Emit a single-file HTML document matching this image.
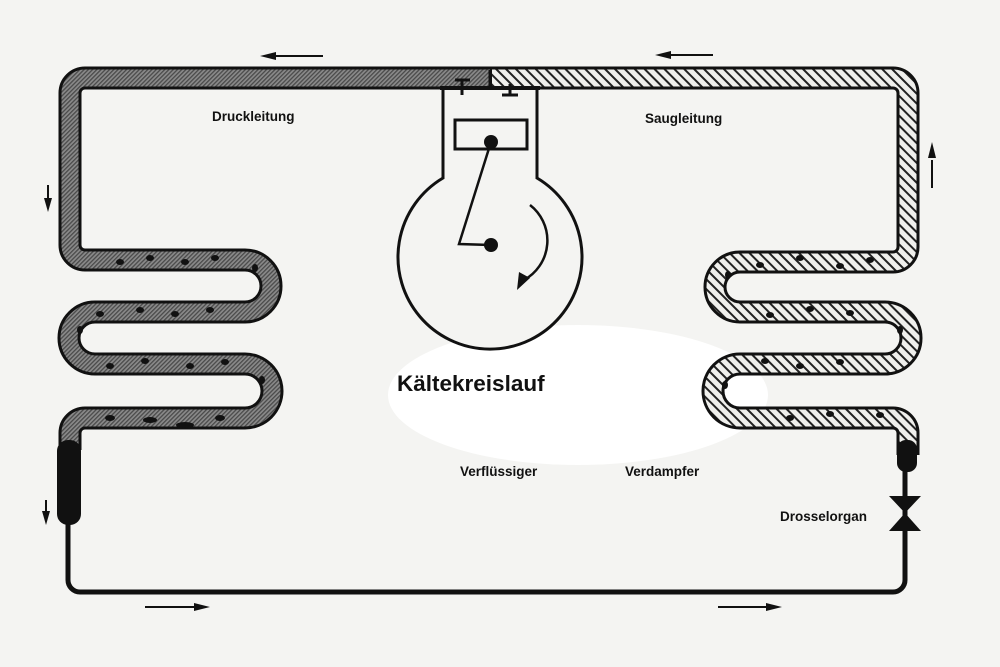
<!DOCTYPE html>
<html><head><meta charset="utf-8"><style>
html,body{margin:0;padding:0;background:#f4f4f2;}
svg{display:block}
text{font-family:"Liberation Sans",sans-serif;font-weight:bold;fill:#111}
</style></head><body>
<svg width="1000" height="667" viewBox="0 0 1000 667" xmlns="http://www.w3.org/2000/svg">
<defs>
<pattern id="dk" width="3" height="3" patternUnits="userSpaceOnUse" patternTransform="rotate(45)">
<rect width="3" height="3" fill="#8a8a8a"/><rect width="1.3" height="3" fill="#4a4a4a"/>
</pattern>
<pattern id="hs" width="7" height="7" patternUnits="userSpaceOnUse" patternTransform="rotate(-45)">
<rect width="7" height="7" fill="#efefec"/><rect width="2" height="7" fill="#222"/>
</pattern>
</defs>
<rect width="1000" height="667" fill="#f4f4f2"/>
<ellipse cx="578" cy="395" rx="190" ry="70" fill="#fff"/>
<path d="M 490 78 L 85 78 A15 15 0 0 0 70 93 L 70 245 A15 15 0 0 0 85 260 L 245 260 A26 26 0 0 1 245 312 L 95 312 A26 26 0 0 0 95 364 L 245 364 A27 27 0 0 1 245 418 L 85 418 A15 15 0 0 0 70 433 L 70 450" fill="none" stroke="#111" stroke-width="23"/>
<path d="M 492 78 L 85 78 A15 15 0 0 0 70 93 L 70 245 A15 15 0 0 0 85 260 L 245 260 A26 26 0 0 1 245 312 L 95 312 A26 26 0 0 0 95 364 L 245 364 A27 27 0 0 1 245 418 L 85 418 A15 15 0 0 0 70 433 L 70 450" fill="none" stroke="url(#dk)" stroke-width="17"/>
<path d="M 490 78 L 893 78 A15 15 0 0 1 908 93 L 908 247 A15 15 0 0 1 893 262 L 740 262 A25 25 0 0 0 740 312 L 885 312 A26 26 0 0 1 885 364 L 740 364 A27 27 0 0 0 740 418 L 893 418 A15 15 0 0 1 908 433 L 908 455" fill="none" stroke="#111" stroke-width="23"/>
<path d="M 492 78 L 893 78 A15 15 0 0 1 908 93 L 908 247 A15 15 0 0 1 893 262 L 740 262 A25 25 0 0 0 740 312 L 885 312 A26 26 0 0 1 885 364 L 740 364 A27 27 0 0 0 740 418 L 893 418 A15 15 0 0 1 908 433 L 908 455" fill="none" stroke="url(#hs)" stroke-width="17"/>
<g fill="#111">
<ellipse cx="120" cy="262" rx="4" ry="3"/><ellipse cx="150" cy="258" rx="4" ry="3"/><ellipse cx="185" cy="262" rx="4" ry="3"/><ellipse cx="215" cy="258" rx="4" ry="3"/><ellipse cx="255" cy="268" rx="3" ry="4"/>
<ellipse cx="100" cy="314" rx="4" ry="3"/><ellipse cx="140" cy="310" rx="4" ry="3"/><ellipse cx="175" cy="314" rx="4" ry="3"/><ellipse cx="210" cy="310" rx="4" ry="3"/><ellipse cx="80" cy="330" rx="3" ry="4"/>
<ellipse cx="110" cy="366" rx="4" ry="3"/><ellipse cx="145" cy="361" rx="4" ry="3"/><ellipse cx="190" cy="366" rx="4" ry="3"/><ellipse cx="225" cy="362" rx="4" ry="3"/><ellipse cx="262" cy="380" rx="3" ry="4"/>
<ellipse cx="110" cy="418" rx="5" ry="3"/><ellipse cx="150" cy="420" rx="7" ry="3"/><ellipse cx="185" cy="425" rx="9" ry="3"/><ellipse cx="220" cy="418" rx="5" ry="3"/>
<ellipse cx="760" cy="265" rx="4" ry="3"/><ellipse cx="800" cy="258" rx="4" ry="3"/><ellipse cx="840" cy="266" rx="4" ry="3"/><ellipse cx="870" cy="260" rx="4" ry="3"/><ellipse cx="728" cy="275" rx="3" ry="4"/>
<ellipse cx="770" cy="315" rx="4" ry="3"/><ellipse cx="810" cy="309" rx="4" ry="3"/><ellipse cx="850" cy="313" rx="4" ry="3"/><ellipse cx="900" cy="330" rx="3" ry="4"/>
<ellipse cx="765" cy="361" rx="4" ry="3"/><ellipse cx="800" cy="366" rx="4" ry="3"/><ellipse cx="840" cy="362" rx="4" ry="3"/><ellipse cx="725" cy="385" rx="3" ry="4"/>
<ellipse cx="790" cy="418" rx="4" ry="3"/><ellipse cx="830" cy="414" rx="4" ry="3"/><ellipse cx="880" cy="415" rx="4" ry="3"/>
</g>
<path d="M 68 520 L 68 580 A12 12 0 0 0 80 592 L 893 592 A12 12 0 0 0 905 580 L 905 460" fill="none" stroke="#111" stroke-width="5"/>
<rect x="57" y="440" width="24" height="85" rx="11" fill="#111"/>
<rect x="897" y="440" width="20" height="32" rx="9" fill="#111"/>
<polygon points="889,496 921,496 905,513" fill="#111"/><polygon points="889,531 921,531 905,513" fill="#111"/>
<path d="M 443 88 L 443 178 A92 92 0 1 0 537 178 L 537 88" fill="#f4f4f2" stroke="#111" stroke-width="3"/>
<rect x="455" y="120" width="72" height="29" fill="none" stroke="#111" stroke-width="3"/>
<polyline points="491,142 459,244 491,245" fill="none" stroke="#111" stroke-width="2.5"/>
<circle cx="491" cy="142" r="7" fill="#111"/><circle cx="491" cy="245" r="7" fill="#111"/>
<path d="M 530 205 A45 45 0 0 1 524 280" fill="none" stroke="#111" stroke-width="2.5"/>
<polygon points="517,290 519,272 530,278" fill="#111"/>
<rect x="440" y="86" width="100" height="4" fill="#111"/>
<path d="M 455 80 H 470 M 462 80 V 95 M 502 95 H 518 M 510 84 V 95 M 490 70 V 86" stroke="#111" stroke-width="3"/>
<g stroke="#111" stroke-width="2" fill="#111">
<line x1="275" y1="56" x2="323" y2="56"/><polygon points="260,56 276,52 276,60" stroke="none"/>
<line x1="670" y1="55" x2="713" y2="55"/><polygon points="655,55 671,51 671,59" stroke="none"/>
<line x1="48" y1="185" x2="48" y2="200"/><polygon points="48,212 44,198 52,198" stroke="none"/>
<line x1="46" y1="500" x2="46" y2="512"/><polygon points="46,525 42,511 50,511" stroke="none"/>
<line x1="932" y1="160" x2="932" y2="188"/><polygon points="932,142 928,158 936,158" stroke="none"/>
<line x1="145" y1="607" x2="195" y2="607"/><polygon points="210,607 194,603 194,611" stroke="none"/>
<line x1="718" y1="607" x2="767" y2="607"/><polygon points="782,607 766,603 766,611" stroke="none"/>
</g>
<text x="212" y="121" font-size="13.5">Druckleitung</text>
<text x="645" y="123" font-size="13.5">Saugleitung</text>
<text x="397" y="391" font-size="22.5">Kältekreislauf</text>
<text x="460" y="476" font-size="13.5">Verflüssiger</text>
<text x="625" y="476" font-size="13.5">Verdampfer</text>
<text x="780" y="521" font-size="13.5">Drosselorgan</text>
</svg>
</body></html>
